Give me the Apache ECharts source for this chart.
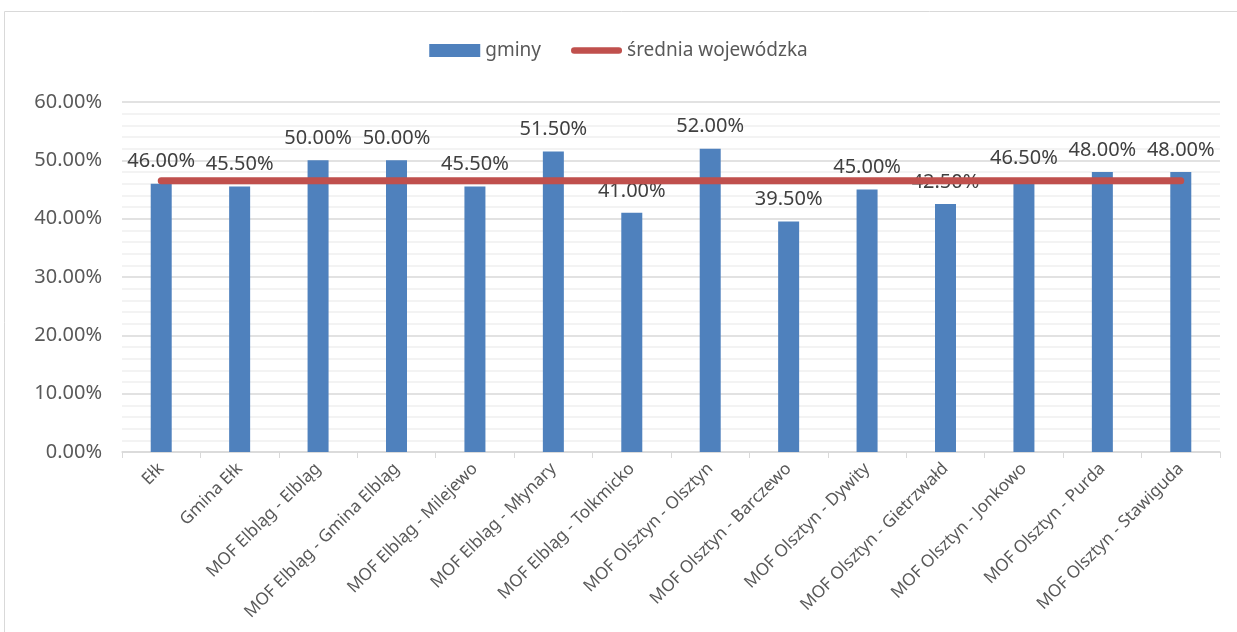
<!DOCTYPE html>
<html>
<head>
<meta charset="utf-8">
<script src="https://cdn.jsdelivr.net/npm/echarts@6/dist/echarts.min.js"></script>
<style>
  html, body { margin: 0; padding: 0; background: #fff; }
  #main { width: 1237px; height: 632px; }
</style>
</head>
<body>
<div id="main"></div>
<script>
var categories = ['Ełk', 'Gmina Ełk', 'MOF Elbląg - Elbląg', 'MOF Elbląg - Gmina Elbląg',
  'MOF Elbląg - Milejewo', 'MOF Elbląg - Młynary', 'MOF Elbląg - Tolkmicko',
  'MOF Olsztyn - Olsztyn', 'MOF Olsztyn - Barczewo', 'MOF Olsztyn - Dywity',
  'MOF Olsztyn - Gietrzwałd', 'MOF Olsztyn - Jonkowo', 'MOF Olsztyn - Purda',
  'MOF Olsztyn - Stawiguda'];
var gminy = [0.46, 0.455, 0.50, 0.50, 0.455, 0.515, 0.41, 0.52, 0.395, 0.45, 0.425, 0.465, 0.48, 0.48];
var sredniaValue = 0.465;
var srednia = categories.map(function () { return sredniaValue; });

var chartDom = document.getElementById('main');
var myChart = echarts.init(chartDom);
var option;

var font = '"Noto Sans", sans-serif';
// thin pill inside a 55x13 box (zero-area corners keep the box size)
var pillIcon = 'path://M0,0 L0.01,0 L0,0.01 Z M55,13 L54.99,13 L55,12.99 Z ' +
  'M3.5,3 L51.5,3 A3.5,3.5 0 0 1 51.5,10 L3.5,10 A3.5,3.5 0 0 1 3.5,3 Z';

option = {
  animation: false,
  textStyle: { fontFamily: font },
  graphic: [{
    type: 'rect',
    shape: { x: 4.5, y: 11.5, width: 1250, height: 650 },
    style: { fill: 'none', stroke: '#d9d9d9', lineWidth: 1 },
    silent: true
  }],
  legend: {
    top: 36,
    left: 'center',
    itemWidth: 51,
    itemHeight: 13,
    itemGap: 30,
    textStyle: { fontSize: 19, color: '#595959', fontFamily: font },
    data: [
      { name: 'gminy', icon: 'rect' },
      { name: 'średnia wojewódzka', icon: pillIcon, itemStyle: { color: '#C0504D' } }
    ]
  },
  grid: {
    left: 122,
    right: 17,
    top: 102,
    bottom: 180
  },
  xAxis: {
    type: 'category',
    data: categories,
    axisLine: { lineStyle: { color: '#d9d9d9', width: 1.5 } },
    axisTick: { show: true, alignWithLabel: false, length: 6, lineStyle: { color: '#d9d9d9' } },
    axisLabel: {
      rotate: 45,
      interval: 0,
      fontSize: 17,
      color: '#595959',
      margin: 14,
      fontFamily: font
    }
  },
  yAxis: {
    type: 'value',
    min: 0,
    max: 0.6,
    interval: 0.1,
    axisLine: { show: false },
    axisTick: { show: false },
    axisLabel: {
      fontSize: 20,
      color: '#595959',
      margin: 20,
      fontFamily: font,
      formatter: function (v) { return (v * 100).toFixed(2) + '%'; }
    },
    splitLine: { lineStyle: { color: '#d9d9d9', width: 1.5 } },
    minorTick: { show: false, splitNumber: 5 },
    minorSplitLine: { show: true, lineStyle: { color: '#efefef', width: 1.5 } }
  },
  series: [
    {
      name: 'gminy',
      type: 'bar',
      data: gminy,
      barWidth: 21,
      itemStyle: { color: '#4F81BD' },
      label: {
        show: true,
        position: 'top',
        distance: 12,
        fontSize: 20,
        color: '#404040',
        fontFamily: font,
        formatter: function (p) { return (p.value * 100).toFixed(2) + '%'; }
      },
      z: 2
    },
    {
      name: 'średnia wojewódzka',
      type: 'line',
      data: srednia,
      symbol: 'none',
      lineStyle: { color: '#C0504D', width: 7, cap: 'round' },
      itemStyle: { color: '#C0504D' },
      z: 3
    }
  ]
};

option && myChart.setOption(option);
</script>
</body>
</html>
